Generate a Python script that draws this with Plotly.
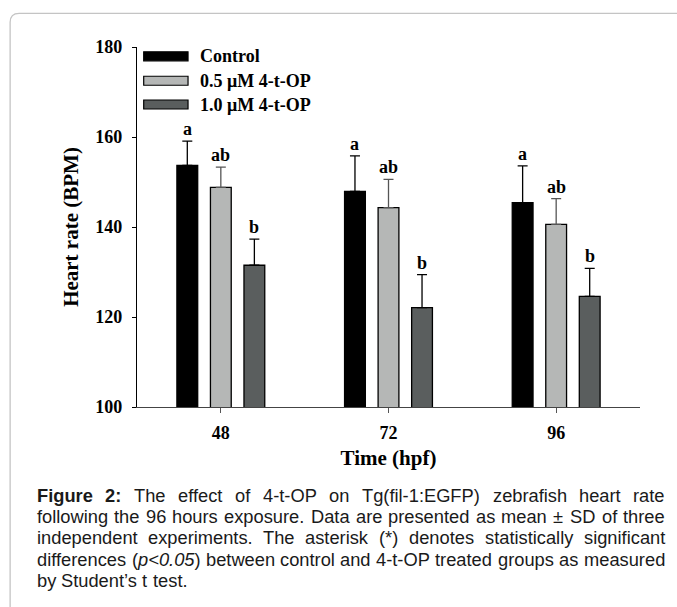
import plotly.graph_objects as go

# ---------------- data ----------------
categories = ["48", "72", "96"]
series_names = ["Control", "0.5 μM 4-t-OP", "1.0 μM 4-t-OP"]
control_mean = [153.7, 147.9, 145.4]
control_sd = [5.4, 7.9, 8.2]
low_mean = [148.8, 144.3, 140.6]
low_sd = [4.5, 6.3, 5.7]
high_mean = [131.5, 122.1, 124.6]
high_sd = [5.8, 7.3, 6.2]
control_letters = ["a", "a", "a"]
low_letters = ["ab", "ab", "ab"]
high_letters = ["b", "b", "b"]
y_ticks = [100, 120, 140, 160, 180]

caption_lines = [
    [("Figure", True), ("2:", True), "The", "effect", "of", "4-t-OP", "on",
     "Tg(fil-1:EGFP)", "zebrafish", "heart", "rate"],
    ["following", "the", "96", "hours", "exposure.", "Data", "are", "presented",
     "as", "mean", "±", "SD", "of", "three"],
    ["independent", "experiments.", "The", "asterisk", "(*)", "denotes",
     "statistically", "significant"],
    ["differences", ("(<i>p&lt;0.05</i>)", False, "(p<0.05)"), "between", "control",
     "and", "4-t-OP", "treated", "groups", "as", "measured"],
    ["by", "Student’s", "t", "test."],
]

# ---------------- layout geometry ----------------
W, H = 677, 607
L, R, T, B = 137.3, 37.0, 46.7, 199.7
PW, PH = W - L - R, H - T - B


def px(x):
    return (x - L) / PW


def py(y):
    return (H - B - y) / PH


SERIF = "Liberation Serif"
SANS = "Liberation Sans"

means = [control_mean, low_mean, high_mean]
sds = [control_sd, low_sd, high_sd]
letters = [control_letters, low_letters, high_letters]
fills = ["#000000", "#b5b7b6", "#5a5e5e"]
err_cols = ["#000000", "#555555", "#000000"]

fig = go.Figure()
for i in range(3):
    fig.add_trace(go.Bar(
        x=categories, y=means[i], name=series_names[i],
        marker=dict(color=fills[i], line=dict(color="#000000", width=1.3)),
        error_y=dict(type="data", symmetric=False, array=sds[i],
                     arrayminus=[0] * len(categories), color=err_cols[i],
                     thickness=1.3, width=5),
        showlegend=False,
    ))

annotations = []
# significance letters
offsets = [-0.2, 0.0, 0.2]
for i in range(3):
    for j in range(len(categories)):
        annotations.append(dict(
            x=j + offsets[i], y=means[i][j] + sds[i][j], xref="x", yref="y",
            text=letters[i][j], showarrow=False, yanchor="bottom", yshift=0,
            font=dict(family=SERIF, size=18, color="#000000", weight="bold"),
        ))

# custom legend
shapes = []
leg_rows = [56.0, 80.5, 104.3]
for i in range(3):
    yc = leg_rows[i]
    shapes.append(dict(type="rect", xref="paper", yref="paper",
                       x0=px(144), x1=px(188.3), y0=py(yc + 4.5), y1=py(yc - 4.5),
                       fillcolor=fills[i], line=dict(color="#000000", width=1.2)))
    annotations.append(dict(
        x=px(198.5), y=py(yc), xref="paper", yref="paper", text=series_names[i],
        showarrow=False, xanchor="left", yanchor="middle",
        font=dict(family=SERIF, size=18, color="#000000", weight="bold")))

# outer rounded frame
r = 9
x0f, y0f = 10.5, 13.0
shapes.append(dict(
    type="path", xref="paper", yref="paper",
    path=(f"M {px(x0f)},{py(H + 20)} L {px(x0f)},{py(y0f + r)} "
          f"Q {px(x0f)},{py(y0f)} {px(x0f + r)},{py(y0f)} L {px(W + 20)},{py(y0f)}"),
    line=dict(color="#c4c4c4", width=1.3)))

# caption (justified, word by word)
AR = {c: 556 for c in "abdeghnopqu0123456789"}
AR.update({"c": 500, "k": 500, "s": 500, "v": 500, "x": 500, "y": 500, "z": 500,
           "f": 278, "t": 278, "i": 222, "j": 222, "l": 222, "m": 833, "r": 333,
           "w": 722, " ": 278, "(": 333, ")": 333, "-": 333, ".": 278, ":": 278,
           "*": 389, "±": 584, "<": 584, "’": 222, "'": 191,
           "A": 667, "B": 667, "C": 722, "D": 722, "E": 667, "F": 611, "G": 778,
           "H": 722, "O": 778, "P": 667, "S": 667, "T": 611})
ARB = dict(AR)
ARB.update({"g": 611, "u": 611, "r": 389, "i": 278, ":": 333, "F": 611})


def word_w(s, fs, bold):
    tab = ARB if bold else AR
    return sum(tab.get(c, 556) for c in s) * fs / 1000.0


CAP_FS = 18.3
cap_left, cap_right = 35.0, 663.0
line_y0, line_dy = 495.5, 21.4
for k, line in enumerate(caption_lines):
    words = []
    for w in line:
        if isinstance(w, tuple):
            if len(w) == 3:
                words.append((w[0], w[1], w[2]))
            else:
                words.append((w[0], w[1], w[0]))
        else:
            words.append((w, False, w))
    widths = [word_w(p, CAP_FS, b) for _, b, p in words]
    last = k == len(caption_lines) - 1
    if last:
        gap = AR[" "] * CAP_FS / 1000.0
    else:
        gap = (cap_right - cap_left - sum(widths)) / (len(words) - 1)
    xcur = cap_left
    for (txt, bold, _), wd in zip(words, widths):
        annotations.append(dict(
            x=px(xcur), y=py(line_y0 + k * line_dy), xref="paper", yref="paper",
            text=f"<b>{txt}</b>" if bold else txt, showarrow=False,
            xanchor="left", yanchor="middle",
            font=dict(family=SANS, size=CAP_FS, color="#1a1a1a")))
        xcur += wd + gap

fig.update_layout(
    width=W, height=H,
    margin=dict(l=L, r=R, t=T, b=B, autoexpand=False),
    paper_bgcolor="#ffffff", plot_bgcolor="#ffffff",
    barmode="group", bargap=0.4, bargroupgap=0.38,
    showlegend=False,
    annotations=annotations, shapes=shapes,
    xaxis=dict(
        type="category", range=[-0.5, 2.5], showgrid=False, zeroline=False,
        showline=True, linecolor="#444444", linewidth=1.3,
        ticks="outside", ticklen=5, tickcolor="#555555", tickwidth=1.3,
        ticklabelstandoff=4,
        tickfont=dict(family=SERIF, size=18, color="#000000", weight="bold"),
        title=dict(text="Time (hpf)", standoff=8,
                   font=dict(family=SERIF, size=21, color="#000000", weight="bold")),
    ),
    yaxis=dict(
        range=[100, 180], tickvals=y_ticks, showgrid=False, zeroline=False,
        showline=True, linecolor="#000000", linewidth=1.3,
        ticks="outside", ticklen=4, tickcolor="#000000", tickwidth=1.3,
        ticklabelstandoff=6,
        tickfont=dict(family=SERIF, size=18, color="#000000", weight="bold"),
        title=dict(text="Heart rate (BPM)", standoff=10,
                   font=dict(family=SERIF, size=21, color="#000000", weight="bold")),
    ),
)

fig.write_html(
    "out.html",
    config={"displayModeBar": False},
    post_script="document.body.style.margin='0';document.body.style.overflow='hidden';",
)
